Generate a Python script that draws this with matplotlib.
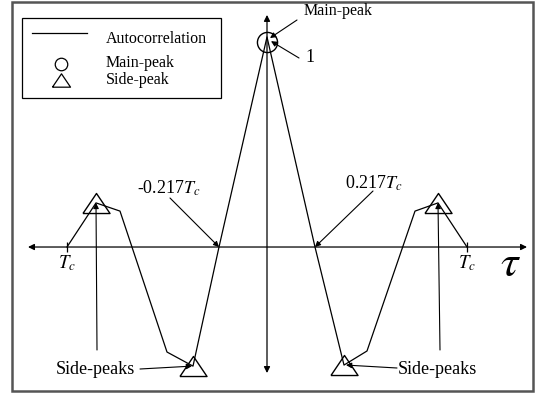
import matplotlib
matplotlib.use("Agg")
import matplotlib.pyplot as plt
from matplotlib.patches import Rectangle
from matplotlib.lines import Line2D

plt.rcParams['font.family'] = ['Liberation Serif', 'DejaVu Serif']
plt.rcParams['mathtext.fontset'] = 'stix'

# autocorrelation sketch, tau in units of Tc, R normalised to main peak
tau = [-1.0, -0.855, -0.735, -0.5, -0.37, -0.24, 0.0, 0.24, 0.385, 0.5, 0.74, 0.855, 1.0]
R = [0.0, 0.21, 0.171, -0.5, -0.567, 0.0, 1.0, 0.0, -0.562, -0.495, 0.171, 0.21, 0.0]
main_idx = 6
side_idx = [1, 4, 8, 11]
tc_ticks = [-1.0, 1.0]

fig = plt.figure(figsize=(5.35, 3.93), dpi=100)
ax = fig.add_axes([0, 0, 1, 1])
ax.set_xlim(-1.335, 1.34)
ax.set_ylim(-0.695, 1.176)
ax.axis('off')

# overlay in pixel units for frame, legend and label positions
ov = fig.add_axes([0, 0, 1, 1], zorder=3)
ov.set_xlim(0, 535)
ov.set_ylim(393, 0)
ov.axis('off')
ov.patch.set_alpha(0)

ov.add_patch(Rectangle((12, 2), 521, 389, fill=False, ec='#555555', lw=1.8))

# axes with arrows
ap = dict(arrowstyle='<|-|>', color='k', lw=0.9, mutation_scale=9, shrinkA=0, shrinkB=0)
ax.annotate('', xy=(-1.195, 0), xytext=(1.3, 0), arrowprops=ap)
ax.annotate('', xy=(0, 1.105), xytext=(0, -0.6), arrowprops=ap)
ax.vlines(tc_ticks, -0.024, 0.024, color='k', lw=0.9)
for t in tc_ticks:
    ax.text(t, -0.078, r'$T_c$', ha='center', va='center', fontsize=13.5)
ax.text(1.215, -0.085, r'$\tau$', ha='center', va='center', fontsize=32)

# curve and markers
ax.plot(tau, R, color='k', lw=0.9)
tri = [(-1, -0.74), (1, -0.74), (0, 0.74), (-1, -0.74)]
ax.plot([tau[i] for i in side_idx], [R[i] for i in side_idx], ls='none',
        marker=tri, ms=19.5, mfc='none', mec='k', mew=1.0)
ax.plot([tau[main_idx]], [R[main_idx] - 0.022], ls='none', marker='o', ms=14.5,
        mfc='none', mec='k', mew=1.0)

arr = dict(arrowstyle='-|>', color='k', lw=0.8, mutation_scale=8, shrinkA=0, shrinkB=0)
fs = 11.5
fa = 13

ax.annotate('', xy=(0.015, 0.995), xytext=(297, 20), textcoords=ov.transData, arrowprops=arr)
ov.text(304, 11, 'Main-peak', fontsize=fs, va='center')
ax.annotate('', xy=(0.02, 0.98), xytext=(299, 58), textcoords=ov.transData, arrowprops=arr)
ov.text(305, 58, '1', fontsize=fa, va='center')

ax.annotate('', xy=(tau[5], 0), xytext=(170, 198), textcoords=ov.transData, arrowprops=arr)
ov.text(169, 188, r'-0.217$T_c$', fontsize=fa, ha='center', va='center')
ax.annotate('', xy=(tau[7], 0), xytext=(373, 191), textcoords=ov.transData, arrowprops=arr)
ov.text(374, 183, r'0.217$T_c$', fontsize=fa, ha='center', va='center')

# side-peak pointers
ax.annotate('', xy=(tau[1], R[1]), xytext=(97, 350), textcoords=ov.transData, arrowprops=arr)
ax.annotate('', xy=(tau[4] - 0.005, R[4]), xytext=(140, 369), textcoords=ov.transData, arrowprops=arr)
ov.text(95, 369, 'Side-peaks', fontsize=fa, ha='center', va='center')
ax.annotate('', xy=(tau[11], R[11]), xytext=(440, 350), textcoords=ov.transData, arrowprops=arr)
ax.annotate('', xy=(tau[8] + 0.01, R[8]), xytext=(397, 368), textcoords=ov.transData, arrowprops=arr)
ov.text(437, 369, 'Side-peaks', fontsize=fa, ha='center', va='center')

# legend drawn by hand
ov.add_patch(Rectangle((22, 18), 199, 80, fill=False, ec='k', lw=0.9))
ov.add_line(Line2D([32, 87], [33, 33], color='k', lw=0.9))
ov.plot([61], [64], marker='o', ms=9, mfc='none', mec='k', mew=0.9)
ov.plot([61], [80], marker=tri, ms=13, mfc='none', mec='k', mew=0.9)
ov.text(106, 39, 'Autocorrelation', fontsize=fs, va='center')
ov.text(106, 63, 'Main-peak', fontsize=fs, va='center')
ov.text(106, 80, 'Side-peak', fontsize=fs, va='center')

fig.savefig('out.png', dpi=100)
